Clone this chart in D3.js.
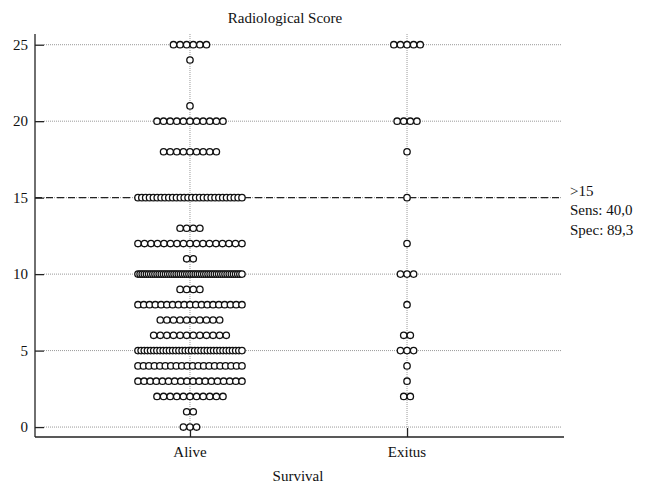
<!DOCTYPE html>
<html>
<head>
<meta charset="utf-8">
<script src="https://cdn.jsdelivr.net/npm/d3@7"></script>
<style>
  body { margin: 0; background: #fff; }
  text { font-family: "Liberation Serif", "Times New Roman", serif; fill: #111; }
</style>
</head>
<body>
<svg width="649" height="487"></svg>
<script>
// data
const groups = ["Alive", "Exitus"];
const aliveScores = [0, 1, 2, 3, 4, 5, 6, 7, 8, 9, 10, 11, 12, 13, 15, 18, 20, 21, 24, 25];
const aliveCounts = [3, 2, 11, 18, 20, 34, 12, 10, 19, 4, 50, 2, 17, 4, 28, 9, 11, 1, 1, 6];
const exitusScores = [2, 3, 4, 5, 6, 8, 10, 12, 15, 18, 20, 25];
const exitusCounts = [2, 1, 1, 3, 2, 1, 3, 1, 1, 1, 4, 5];
const yTicks = [0, 5, 10, 15, 20, 25];
const cutoff = 15;
const cutoffLabels = [">15", "Sens: 40,0", "Spec: 89,3"];

let svg = d3.select("svg");

const plotLeft = 35, plotRight = 562, plotTop = 34, plotBottom = 437;

const x = d3.scalePoint().domain(groups).range([plotLeft, plotRight]).padding(0.714);
const y = d3.scaleLinear().domain([-0.65, 25.7]).range([plotBottom, plotTop]);

// grid
svg.append("g")
  .selectAll("line")
  .data(yTicks)
  .enter()
  .append("line")
  .attr("x1", plotLeft + 9)
  .attr("x2", plotRight)
  .attr("y1", d => y(d))
  .attr("y2", d => y(d))
  .attr("stroke", "#999")
  .attr("stroke-width", 1)
  .attr("stroke-dasharray", "1,1");

svg.append("g")
  .selectAll("line")
  .data(groups)
  .enter()
  .append("line")
  .attr("x1", d => x(d))
  .attr("x2", d => x(d))
  .attr("y1", plotTop)
  .attr("y2", plotBottom - 9)
  .attr("stroke", "#999")
  .attr("stroke-width", 1)
  .attr("stroke-dasharray", "1,1");

// cutoff line
svg.append("line")
  .attr("x1", plotLeft)
  .attr("x2", plotRight)
  .attr("y1", y(cutoff))
  .attr("y2", y(cutoff))
  .attr("stroke", "#222")
  .attr("stroke-width", 1.2)
  .attr("stroke-dasharray", "7,4");

svg.append("g")
  .selectAll("text")
  .data(cutoffLabels)
  .enter()
  .append("text")
  .attr("x", plotRight + 8)
  .attr("y", (d, i) => y(cutoff) - 2 + i * 19.5)
  .style("font-size", "15px")
  .text(d => d);

// axes
const yAxis = d3.axisRight(y).tickValues(yTicks).tickSize(9).tickFormat("");
svg.append("g")
  .attr("transform", `translate(${plotLeft},0)`)
  .call(yAxis)
  .call(g => g.select(".domain").attr("stroke", "#222").attr("stroke-width", 1.3).attr("d", `M0,${plotTop}V${plotBottom}`))
  .call(g => g.selectAll(".tick line").attr("stroke", "#222").attr("stroke-width", 1.3));

svg.append("g")
  .selectAll("text")
  .data(yTicks)
  .enter()
  .append("text")
  .attr("x", plotLeft - 7)
  .attr("y", d => y(d) + 5)
  .attr("text-anchor", "end")
  .style("font-size", "15px")
  .text(d => d);

const xAxis = d3.axisTop(x).tickSize(9).tickFormat("");
svg.append("g")
  .attr("transform", `translate(0,${plotBottom})`)
  .call(xAxis)
  .call(g => g.select(".domain").attr("stroke", "#222").attr("stroke-width", 1.3).attr("d", `M${plotLeft},0H${plotRight + 2}`))
  .call(g => g.selectAll(".tick line").attr("stroke", "#222").attr("stroke-width", 1.3));

svg.append("g")
  .selectAll("text")
  .data(groups)
  .enter()
  .append("text")
  .attr("x", d => x(d))
  .attr("y", plotBottom + 20)
  .attr("text-anchor", "middle")
  .style("font-size", "15px")
  .text(d => d);

// titles
svg.append("text")
  .attr("x", 285)
  .attr("y", 23)
  .attr("text-anchor", "middle")
  .style("font-size", "15px")
  .text("Radiological Score");

svg.append("text")
  .attr("x", 298)
  .attr("y", 481)
  .attr("text-anchor", "middle")
  .style("font-size", "15px")
  .text("Survival");

// dots: rows are centred, squeezed when too wide
const gap = 6.6, maxSpan = 104;
function makeDots(group, scores, counts) {
  let out = [];
  scores.forEach((s, i) => {
    const n = counts[i];
    const step = n > 1 ? Math.min(gap, maxSpan / (n - 1)) : 0;
    for (let k = 0; k < n; k++) {
      out.push({ group: group, score: s, off: (k - (n - 1) / 2) * step });
    }
  });
  return out;
}
const dots = makeDots("Alive", aliveScores, aliveCounts)
  .concat(makeDots("Exitus", exitusScores, exitusCounts));

svg.append("g")
  .selectAll("circle")
  .data(dots)
  .enter()
  .append("circle")
  .attr("cx", d => x(d.group) + d.off)
  .attr("cy", d => y(d.score))
  .attr("r", 3.2)
  .attr("fill", "#fff")
  .attr("stroke", "#111")
  .attr("stroke-width", 1.3);
</script>
</body>
</html>
